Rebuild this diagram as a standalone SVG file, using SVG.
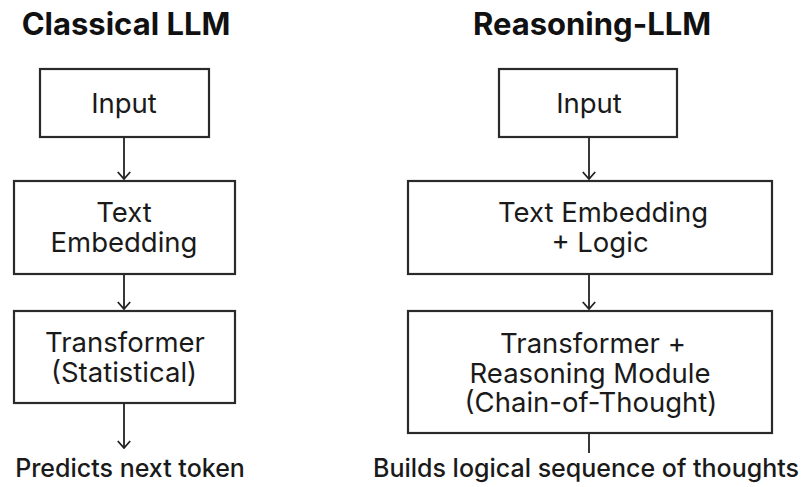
<svg xmlns="http://www.w3.org/2000/svg" width="806" height="487" viewBox="0 0 806 487">
  <defs>
    <!-- open chevron head, drawn along +x so orient="auto" points it down the line -->
    <marker id="arrow" viewBox="0 0 10 14" refX="9" refY="7" markerWidth="10" markerHeight="14" markerUnits="userSpaceOnUse" orient="auto">
      <path d="M2,0.8 L9,7 L2,13.2" fill="none" stroke="#222" stroke-width="1.8"/>
    </marker>
  </defs>
  <style>
    .box { fill: #fff; stroke: #2a2a2a; stroke-width: 2.2; }
    .title { font-family: Inter, "Liberation Sans", sans-serif; font-weight: 700; font-size: 31px; fill: #111; text-anchor: middle; }
    .lbl { font-family: Inter, "Liberation Sans", sans-serif; font-weight: 400; font-size: 27.5px; fill: #1a1a1a; text-anchor: middle; }
    .out { font-family: Inter, "Liberation Sans", sans-serif; font-weight: 500; font-size: 25px; fill: #1a1a1a; text-anchor: middle; }
    .edge { stroke: #222; stroke-width: 1.8; fill: none; }
  </style>
  <rect width="806" height="487" fill="#fff"/>

  <!-- column titles -->
  <text class="title" x="126" y="35">Classical LLM</text>
  <text class="title" x="592" y="35">Reasoning-LLM</text>

  <!-- classical pipeline -->
  <g id="c-input">
    <rect class="box" x="40" y="69" width="169" height="68"/>
    <text class="lbl" x="124" y="113">Input</text>
  </g>
  <g id="c-embed">
    <rect class="box" x="14" y="181" width="221" height="93"/>
    <text class="lbl" x="124" y="222">Text</text>
    <text class="lbl" x="124" y="252">Embedding</text>
  </g>
  <g id="c-transformer">
    <rect class="box" x="14" y="311" width="221" height="92"/>
    <text class="lbl" x="125" y="352">Transformer</text>
    <text class="lbl" x="124" y="382">(Statistical)</text>
  </g>
  <g id="c-output">
    <text class="out" x="130" y="477">Predicts next token</text>
  </g>

  <!-- reasoning pipeline -->
  <g id="r-input">
    <rect class="box" x="499" y="69" width="178" height="68"/>
    <text class="lbl" x="589" y="113">Input</text>
  </g>
  <g id="r-embed">
    <rect class="box" x="408" y="181" width="364" height="93"/>
    <text class="lbl" x="603" y="222">Text Embedding</text>
    <text class="lbl" x="600" y="252">+ Logic</text>
  </g>
  <g id="r-transformer">
    <rect class="box" x="408" y="311" width="364" height="122"/>
    <text class="lbl" x="593" y="353">Transformer +</text>
    <text class="lbl" x="590" y="383">Reasoning Module</text>
    <text class="lbl" x="591" y="412">(Chain-of-Thought)</text>
  </g>
  <g id="r-output">
    <text class="out" x="586" y="477">Builds logical sequence of thoughts</text>
  </g>

  <!-- connectors -->
  <g id="connectors">
    <line class="edge" x1="124" y1="138" x2="124" y2="179" marker-end="url(#arrow)"/>
    <line class="edge" x1="124" y1="275" x2="124" y2="309" marker-end="url(#arrow)"/>
    <line class="edge" x1="124" y1="404" x2="124" y2="448" marker-end="url(#arrow)"/>
    <line class="edge" x1="589" y1="138" x2="589" y2="179" marker-end="url(#arrow)"/>
    <line class="edge" x1="589" y1="275" x2="589" y2="309" marker-end="url(#arrow)"/>
    <line class="edge" x1="589" y1="434" x2="589" y2="453"/>
  </g>
</svg>
